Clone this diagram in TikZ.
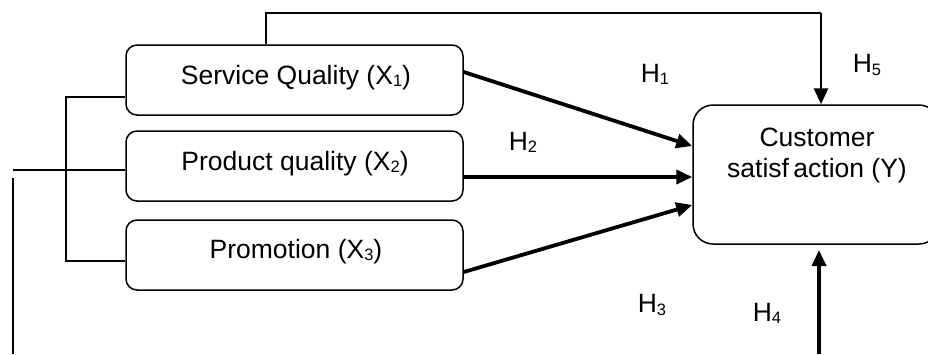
\documentclass[tikz,border=0pt]{standalone}
\usepackage{fontspec}
\setmainfont{Liberation Sans}
\usetikzlibrary{arrows.meta}
\newcommand{\sbs}[1]{\raisebox{-0.15ex}{\fontsize{16.5}{16.5}\selectfont #1}}
\tikzset{
  varbox/.style={draw, line width=1.5pt, rounded corners=11pt, minimum width=337pt, minimum height=70pt, inner sep=0pt},
  txt/.style={font=\fontsize{26.5}{31}\selectfont, inner sep=0pt},
  thin/.style={line width=1.5pt},
  thick arrow/.style={line width=3.8pt, -{Triangle[length=16pt,width=14pt]}},
}
\begin{document}
\begin{tikzpicture}[x=1pt, y=-1pt]
\useasboundingbox (0,0) rectangle (928,354);
\clip (0,0) rectangle (928,354);
\node[varbox] (x1) at (294.5,80) {};
\node[varbox] (x2) at (294.5,166) {};
\node[varbox] (x3) at (294.5,255) {};
\node[txt] (t1) at (296,78) {Service Quality (X\sbs{1})};
\node[txt] (t2) at (295,164) {Product quality (X\sbs{2})};
\node[txt] (t3) at (296,252) {Promotion (X\sbs{3})};
\node[draw, line width=1.5pt, rounded corners=20pt, minimum width=246pt, minimum height=139pt, inner sep=0pt] (y) at (816,174.5) {};
\node[txt, align=center] (ty) at (817,155) {Customer\\satisf\,action (Y)};
% hypothesis arrows
\draw[thick arrow] ([yshift=8pt]x1.east) -- ([yshift=28.5pt]y.west);
\draw[thick arrow] ([yshift=-11pt]x2.east) -- ([yshift=-2.5pt]y.west);
\draw[thick arrow] ([yshift=-17pt]x3.east) -- ([yshift=-30.5pt]y.west);
% H5
\coordinate (a) at (266,13);
\coordinate (b) at (821,13);
\draw[thin] ([xshift=-28.5pt]x1.north) -- (a) -- (b);
\draw[thick arrow, line width=2.8pt] (b) -- ([xshift=5pt]y.north);
% H4
\coordinate (c) at (819,354);
\coordinate (d) at (819,250);
\draw[thick arrow] (c) -- (d);
% left bracket
\coordinate (l1) at (66,97);
\coordinate (l3) at (66,261);
\draw[thin] ([yshift=-17pt]x1.west) -- (l1) -- (l3) -- ([yshift=-6pt]x3.west);
\coordinate (m) at (13,170);
\draw[thin] (m) -- ([yshift=-4pt]x2.west);
\coordinate (v1) at (13,178);
\coordinate (v2) at (13,354);
\draw[thin] (v1) -- (v2);
% labels
\node[txt] (h1) at (655,74) {H\sbs{1}};
\node[txt] (h2) at (523,142) {H\sbs{2}};
\node[txt] (h5) at (867,65) {H\sbs{5}};
\node[txt] (h3) at (652,305) {H\sbs{3}};
\node[txt] (h4) at (767,313) {H\sbs{4}};
\end{tikzpicture}
\end{document}
